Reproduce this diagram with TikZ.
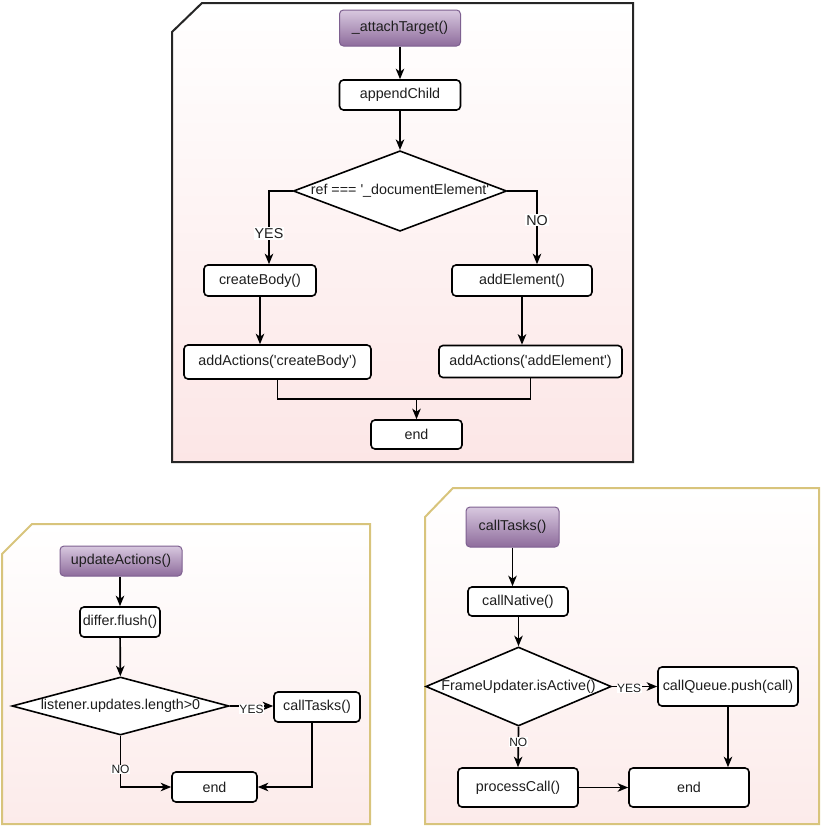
\documentclass[tikz,border=0pt]{standalone}
\usepackage{fontspec}
\setmainfont{Liberation Sans}
\usetikzlibrary{shapes.geometric,arrows.meta}
\definecolor{framegold}{HTML}{D8C47C}
\definecolor{pinkbot}{HTML}{FCE6E6}
\definecolor{pinkbot2}{HTML}{FCEBEA}
\definecolor{purtop}{HTML}{D8C8DF}
\definecolor{purbot}{HTML}{8E6C9C}
\definecolor{purline}{HTML}{7E6090}
\definecolor{txt}{HTML}{1E1E1E}
\newcommand{\sq}{\textquotesingle}
\tikzset{
  box/.style={draw=black, line width=1.6pt, rounded corners=4pt, fill=white,
    inner sep=0pt, align=center, text=txt, font=\fontsize{14.3}{17}\selectfont},
  startbox/.style={box, draw=purline, line width=1pt, top color=purtop, bottom color=purbot},
  decision/.style={draw=black, line width=1.6pt, diamond, fill=white, inner sep=0pt,
    text=txt, font=\fontsize{14.3}{17}\selectfont},
  arr/.style={draw=black, line width=1.7pt, -{Stealth[length=10.5pt,width=8.5pt,inset=3pt]}},
  conn/.style={draw=black, line width=1.7pt},
  lbl/.style={fill=white, inner sep=1pt, text=txt, font=\fontsize{14.3}{17}\selectfont},
  slbl/.style={fill=white, inner sep=0.5pt, text=txt, font=\fontsize{12}{14}\selectfont},
}
\begin{document}
\begin{tikzpicture}[x=1pt,y=-1pt]
\useasboundingbox (0,0) rectangle (822,827);
% frames
\path[draw=black!85, line width=2pt, top color=white, bottom color=pinkbot]
  (172,32) -- (202,3) -- (633,3) -- (633,462) -- (172,462) -- cycle;
\path[draw=framegold, line width=2pt, top color=white, bottom color=pinkbot2]
  (2,554) -- (32,524) -- (370,524) -- (370,824) -- (2,824) -- cycle;
\path[draw=framegold, line width=2pt, top color=white, bottom color=pinkbot2]
  (425,517) -- (453,488) -- (819,488) -- (819,824) -- (425,824) -- cycle;

% ---------- top diagram ----------
\node[startbox, minimum width=121pt, minimum height=36pt] (t0) at (400,28) {\_attachTarget()};
\node[box, minimum width=121pt, minimum height=30pt] (t1) at (400,95) {appendChild};
\node[decision, minimum width=209pt, minimum height=79pt, aspect=2.65] (td) at (400,191) {ref === \sq\_documentElement\sq};
\node[box, minimum width=112pt, minimum height=31pt] (cb) at (260,280.5) {createBody()};
\node[box, minimum width=140pt, minimum height=31pt] (ae) at (522,280.5) {addElement()};
\node[box, minimum width=187pt, minimum height=34pt] (aac) at (277.5,362) {addActions(\sq createBody\sq)};
\node[box, minimum width=183pt, minimum height=32pt] (aae) at (530.5,361.5) {addActions(\sq addElement\sq)};
\node[box, minimum width=91pt, minimum height=29pt] (te) at (416.5,434.5) {end};
\coordinate (m) at (416.5,399);

\draw[arr] (t0) -- (t1);
\draw[arr] (t1) -- (td);
\draw[arr] (td.west) -| ([xshift=9pt]cb.north) node[lbl, pos=0.79] {YES};
\draw[arr] (td.east) -| ([xshift=15pt]ae.north) node[lbl, pos=0.7] {NO};
\draw[arr] (cb.south) -- (cb.south |- aac.north);
\draw[arr] (ae.south) -- (ae.south |- aae.north);
\draw[conn] (aac.south) |- (m) -| (aae.south);
\draw[arr] (m) -- (te.north);

% ---------- bottom-left diagram ----------
\node[startbox, minimum width=122pt, minimum height=30pt] (ua) at (121,561) {updateActions()};
\node[box, minimum width=80pt, minimum height=30pt] (df) at (120,622) {differ.flush()};
\node[decision, minimum width=217pt, minimum height=58pt, aspect=3.7] (ld) at (120.5,706) {listener.updates.length>0};
\node[box, minimum width=86pt, minimum height=30pt] (ct) at (317,707) {callTasks()};
\node[box, minimum width=85pt, minimum height=30pt] (e1) at (214.5,787) {end};

\draw[arr] (ua.south -| df.north) -- (df.north);
\draw[arr] (df) -- (ld);
\draw[arr] (ld.east) -- (ld.east -| ct.west) node[slbl, midway, yshift=-3pt] {YES};
\draw[arr] (ld.south) |- (e1.west) node[slbl, pos=0.33] {NO};
\draw[arr] ([xshift=-5pt]ct.south) |- (e1.east);

% ---------- bottom-right diagram ----------
\node[startbox, minimum width=93pt, minimum height=40pt] (cT) at (512.5,527) {callTasks()};
\node[box, minimum width=100pt, minimum height=29pt] (cn) at (518,601.5) {callNative()};
\node[decision, minimum width=185pt, minimum height=79pt, aspect=2.35] (fd) at (518.5,686.5) {FrameUpdater.isActive()};
\node[box, minimum width=140pt, minimum height=39pt] (cq) at (728,686.5) {callQueue.push(call)};
\node[box, minimum width=120pt, minimum height=39pt] (pc) at (518,787.5) {processCall()};
\node[box, minimum width=120pt, minimum height=39pt] (e2) at (689,787.5) {end};

\draw[arr] (cT.south) -- (cT.south |- cn.north);
\draw[arr] (cn.south -| fd.north) -- (fd.north);
\draw[arr] (fd.east) -- (cq.west) node[slbl, pos=0.38, yshift=-2pt] {YES};
\draw[arr] (fd.south) -- (pc.north) node[slbl, pos=0.38] {NO};
\draw[arr] (pc.east) -- (e2.west);
\draw[arr] (cq.south) -- (cq.south |- e2.north);
\end{tikzpicture}
\end{document}
